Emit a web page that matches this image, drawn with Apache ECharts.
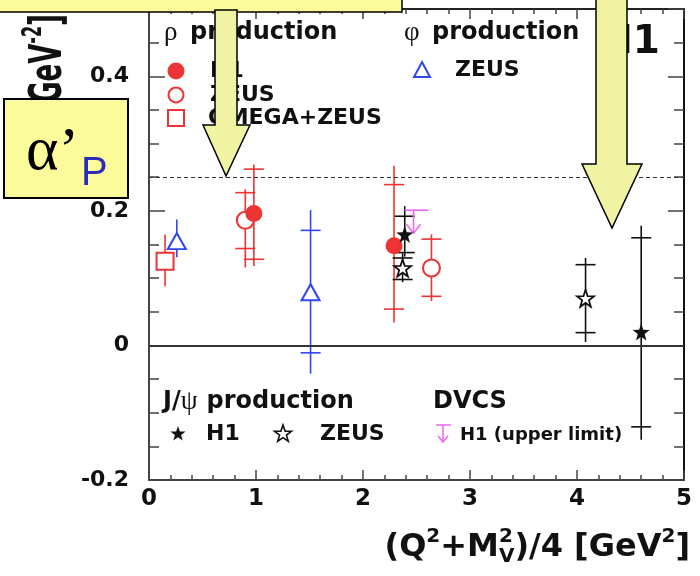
<!DOCTYPE html>
<html><head><meta charset="utf-8">
<script src="https://cdn.jsdelivr.net/npm/echarts@6/dist/echarts.min.js"></script>
<style>html,body{margin:0;padding:0;background:#fff}#c{width:700px;height:576px}</style>
</head><body><div id="c"></div>
<script>
// ---------------- data ----------------
const xTickLabels = ['0','1','2','3','4','5'];
const yTickLabels = ['-0.2','0','0.2','0.4'];
// rho production, H1 (filled circles)
const rhoH1_x = [0.98, 2.29];
const rhoH1_y = [0.196, 0.148];
const rhoH1_lo = [0.118, 0.034];
const rhoH1_hi = [0.269, 0.267];
const rhoH1_capLo = [0.128, 0.054];
const rhoH1_capHi = [0.262, 0.239];
// rho production, ZEUS (open circles)
const rhoZEUS_x = [0.90, 2.64];
const rhoZEUS_y = [0.186, 0.115];
const rhoZEUS_lo = [0.116, 0.066];
const rhoZEUS_hi = [0.232, 0.165];
const rhoZEUS_capLo = [0.144, 0.073];
const rhoZEUS_capHi = [0.227, 0.158];
// rho production, OMEGA+ZEUS (open square)
const rhoOmega_x = [0.15];
const rhoOmega_y = [0.125];
const rhoOmega_lo = [0.088];
const rhoOmega_hi = [0.165];
const rhoOmega_capLo = [null];
const rhoOmega_capHi = [null];
// phi production, ZEUS (open triangles)
const phiZEUS_x = [0.26, 1.51];
const phiZEUS_y = [0.155, 0.079];
const phiZEUS_lo = [0.131, -0.042];
const phiZEUS_hi = [0.187, 0.201];
const phiZEUS_capLo = [null, -0.011];
const phiZEUS_capHi = [null, 0.171];
// J/psi production, H1 (filled stars)
const jpsiH1_x = [2.39, 4.60];
const jpsiH1_y = [0.165, 0.020];
const jpsiH1_lo = [0.132, -0.140];
const jpsiH1_hi = [0.207, 0.178];
const jpsiH1_capLo = [0.138, -0.121];
const jpsiH1_capHi = [0.192, 0.160];
// J/psi production, ZEUS (open stars)
const jpsiZEUS_x = [2.37, 4.08];
const jpsiZEUS_y = [0.115, 0.070];
const jpsiZEUS_lo = [0.094, 0.005];
const jpsiZEUS_hi = [0.137, 0.130];
const jpsiZEUS_capLo = [0.098, 0.019];
const jpsiZEUS_capHi = [0.130, 0.120];
// DVCS H1 upper limit
const dvcsH1_x = [2.50];
const dvcsH1_limit = [0.201];
// reference line
const refLineValue = [0.25];

// ---------------- helpers ----------------
const RED = '#EC3434', BLUE = '#3346EE', MAG = '#EE66EE', BLK = '#111111';
const STAR = 'path://M0,-10 L2.35,-3.24 L9.51,-3.09 L3.8,1.24 L5.88,8.09 L0,4 L-5.88,8.09 L-3.8,1.24 L-9.51,-3.09 L-2.35,-3.24 Z';
const FONT = 'DejaVu Sans';

function pts(xs, ys){ return xs.map((x,i)=>[x, ys[i]]); }
function errs(xs, lo, hi, cl, ch){ return xs.map((x,i)=>[x, lo[i], hi[i], cl[i]==null?'-':cl[i], ch[i]==null?'-':ch[i]]); }
function errRender(color){
  return function(params, api){
    const x = api.value(0);
    const a = api.coord([x, api.value(1)]);
    const b = api.coord([x, api.value(2)]);
    const ch = [{type:'line', shape:{x1:a[0],y1:a[1],x2:b[0],y2:b[1]}, style:{stroke:color,lineWidth:1.6}}];
    [3,4].forEach(k=>{
      const v = api.value(k);
      if(v!=null && !isNaN(v)){
        const c = api.coord([x, v]);
        ch.push({type:'line', shape:{x1:c[0]-10,y1:c[1],x2:c[0]+10,y2:c[1]}, style:{stroke:color,lineWidth:1.6}});
      }
    });
    return {type:'group', children:ch};
  };
}
function limitRender(params, api){
  const c = api.coord([api.value(0), api.value(1)]);
  const st = {stroke:MAG, lineWidth:1.6, fill:null};
  return {type:'group', children:[
    {type:'line', shape:{x1:c[0]-12,y1:c[1],x2:c[0]+12,y2:c[1]}, style:st},
    {type:'line', shape:{x1:c[0]-3,y1:c[1],x2:c[0]-3,y2:c[1]+23}, style:st},
    {type:'polyline', shape:{points:[[c[0]-10,c[1]+14],[c[0]-3,c[1]+23],[c[0]+4,c[1]+14]]}, style:st}
  ]};
}
function errSeries(name, data, color){
  return {type:'custom', name, z:2, data, dimensions:['x','lo','hi','cl','ch'], encode:{x:0,y:[1,2]}, renderItem:errRender(color), silent:true};
}
function scat(name, data, symbol, size, fill, border, bw){
  return {type:'scatter', name, z:4, data, symbol, symbolSize:size, itemStyle:{color:fill, borderColor:border, borderWidth:bw, opacity:1}, silent:true};
}

const mctx = document.createElement('canvas').getContext('2d');
function tw(t, f){ mctx.font = f; return mctx.measureText(t).width; }
function run(pieces, anchorX, yc, alignRight, z){
  let x = 0, prevX = 0, prevW = 0; const items = [];
  pieces.forEach(p=>{
    const f = `${p.weight||'bold'} ${p.size}px "${p.family||FONT}"`;
    const w = tw(p.t, f);
    let px;
    if(p.stack){ px = prevX; if(w>prevW) x += w-prevW; }
    else { px = x + (p.gap||0); x = px + w; prevX = px; prevW = w; }
    items.push({px, p, f});
  });
  const off = alignRight ? anchorX - x : anchorX;
  return items.map(it=>({type:'text', z:z||10, silent:true,
    style:{text:it.p.t, x:off+it.px, y:yc+(it.p.dy||0), font:it.f, fill:it.p.fill||BLK, align:'left', verticalAlign:'middle'}}));
}
function txt(t, x, y, size, opts){
  opts = opts||{};
  return {type:'text', z:10, silent:true, style:{text:t, x, y, font:`${opts.weight||'bold'} ${size}px "${opts.family||FONT}"`, fill:opts.fill||BLK, align:opts.align||'left', verticalAlign:'middle'}};
}
function starPts(cx, cy, R){
  const r = R*0.4, out = [];
  for(let i=0;i<10;i++){ const a = -Math.PI/2 + i*Math.PI/5; const rr = i%2?r:R; out.push([cx+rr*Math.cos(a), cy+rr*Math.sin(a)]); }
  return out;
}

// ---------------- graphics (legend, annotations) ----------------
const LEG = 22, HEAD = 24;
const graphics = [
  // legend headers
  txt('ρ', 164, 33, 27, {weight:'normal', family:'Liberation Serif'}),
  txt('production', 190, 33, HEAD),
  txt('φ', 404, 33, 27, {weight:'normal', family:'Liberation Serif'}),
  txt('production', 432, 33, HEAD),
  ...run([{t:'J/', size:HEAD},{t:'ψ', size:27, weight:'normal', family:'Liberation Serif'},{t:'production', size:HEAD, gap:9}], 163, 402, false),
  txt('DVCS', 433, 402, HEAD),
  // legend entries
  {type:'circle', z:10, shape:{cx:176, cy:71, r:8.5}, style:{fill:RED}},
  txt('H1', 210, 71, LEG),
  {type:'circle', z:10, shape:{cx:176, cy:95, r:7.5}, style:{fill:'#fff', stroke:RED, lineWidth:2}},
  txt('ZEUS', 210, 95, LEG),
  {type:'rect', z:10, shape:{x:168, y:110, width:16, height:16}, style:{fill:'#fff', stroke:RED, lineWidth:2}},
  txt('OMEGA+ZEUS', 208, 118, LEG),
  {type:'polygon', z:10, shape:{points:[[422,62],[430,77],[414,77]]}, style:{fill:'#fff', stroke:BLUE, lineWidth:2}},
  txt('ZEUS', 455, 70, LEG),
  {type:'polygon', z:10, shape:{points:starPts(178,434,8)}, style:{fill:BLK}},
  txt('H1', 206, 434, LEG),
  {type:'polygon', z:10, shape:{points:starPts(283,434,9)}, style:{fill:'#fff', stroke:BLK, lineWidth:1.6}},
  txt('ZEUS', 320, 434, LEG),
  {type:'line', z:10, shape:{x1:436,y1:425,x2:451,y2:425}, style:{stroke:MAG, lineWidth:1.5}},
  {type:'line', z:10, shape:{x1:443,y1:425,x2:443,y2:442}, style:{stroke:MAG, lineWidth:1.5}},
  {type:'polyline', z:10, shape:{points:[[438,436],[443,442],[448,436]]}, style:{stroke:MAG, lineWidth:1.5, fill:null}},
  txt('H1 (upper limit)', 460, 435, 18),
  // big H1 label
  txt('H1', 660, 43, 39, {align:'right'}),
  // x axis title
  ...run([
    {t:'(Q', size:32},{t:'2', size:20, dy:-11},{t:'+M', size:32},{t:'2', size:20, dy:-11},{t:'V', size:20, dy:9, stack:true},
    {t:')/4 [GeV', size:32},{t:'2', size:20, dy:-11},{t:']', size:32}
  ], 690, 548, true),
  // y axis title (rotated, partly hidden)
  {type:'group', z:10, x:65, y:14, rotation:Math.PI/2, scaleY:1.7, silent:true,
    children: run([{t:'[GeV', size:26},{t:'-2', size:16, dy:-9},{t:']', size:26}], 0, -9, true)},
  // yellow annotation boxes and arrows
  {type:'rect', z:100, shape:{x:-2, y:-3, width:404, height:15}, style:{fill:'#FBFB9C', stroke:'#000', lineWidth:1.5}},
  {type:'polygon', z:100, shape:{points:[[215,10],[237,10],[237,125],[250,125],[226,176],[203,125],[215,125]]}, style:{fill:'#F0F4A2', stroke:'#000', lineWidth:1.5}},
  {type:'polygon', z:100, shape:{points:[[596,-3],[627,-3],[627,164],[642,164],[612,228],[582,164],[596,164]]}, style:{fill:'#F0F4A2', stroke:'#000', lineWidth:1.5}},
  {type:'rect', z:100, shape:{x:4, y:99, width:124, height:99}, style:{fill:'#FBFB9C', stroke:'#000', lineWidth:2}},
  {type:'text', z:101, style:{text:'α’', x:26, y:153, font:'normal 62px "Liberation Serif"', fill:'#000', align:'left', verticalAlign:'middle'}},
  {type:'text', z:101, style:{text:'P', x:81, y:174, font:'normal 40px "Liberation Sans"', fill:'#2C2CB8', align:'left', verticalAlign:'middle'}}
];

// ---------------- chart ----------------
const axisLab = {fontFamily:FONT, fontWeight:'bold', fontSize:22, color:BLK};
const chart = echarts.init(document.getElementById('c'), null, {renderer:'canvas'});
chart.setOption({
  animation:false,
  backgroundColor:'#fff',
  grid:{left:149, right:16, top:9, bottom:96, containLabel:false, outerBoundsMode:'none', show:false},
  xAxis:[
    {type:'value', min:0, max:5, interval:1, position:'bottom',
     axisLine:{show:true, onZero:false, lineStyle:{color:'#444', width:2}},
     axisTick:{show:true, inside:true, length:10, lineStyle:{color:'#444', width:1.5}},
     minorTick:{show:true, splitNumber:5, length:5, lineStyle:{color:'#444', width:1.5}},
     splitLine:{show:false},
     axisLabel:Object.assign({margin:8, formatter:v=>xTickLabels[Math.round(v)]}, axisLab, {fontSize:23})},
    {type:'value', min:0, max:5, interval:1, position:'top',
     axisLine:{show:true, onZero:false, lineStyle:{color:'#222', width:2}},
     axisTick:{show:true, inside:true, length:10, lineStyle:{color:'#444', width:1.5}},
     minorTick:{show:true, splitNumber:5, length:5, lineStyle:{color:'#444', width:1.5}},
     splitLine:{show:false}, axisLabel:{show:false}}
  ],
  yAxis:[
    {type:'value', min:-0.2, max:0.5, interval:0.2, position:'left',
     axisLine:{show:true, onZero:false, lineStyle:{color:'#444', width:2}},
     axisTick:{show:true, inside:true, length:16, lineStyle:{color:'#444', width:1.5}},
     minorTick:{show:true, splitNumber:4, length:10, lineStyle:{color:'#444', width:1.5}},
     splitLine:{show:false},
     axisLabel:Object.assign({margin:20, showMaxLabel:false, formatter:v=>{const i=Math.round((v+0.2)/0.2); return (Math.abs(v+0.2-i*0.2)<1e-6 && i<yTickLabels.length)? yTickLabels[i] : '';}}, axisLab)},
    {type:'value', min:-0.2, max:0.5, interval:0.2, position:'right',
     axisLine:{show:true, onZero:false, lineStyle:{color:'#111', width:2}},
     axisTick:{show:true, inside:true, length:16, lineStyle:{color:'#444', width:1.5}},
     minorTick:{show:true, splitNumber:4, length:10, lineStyle:{color:'#444', width:1.5}},
     splitLine:{show:false}, axisLabel:{show:false}}
  ],
  graphic:graphics,
  series:[
    Object.assign(errSeries('rhoOmegaErr', errs(rhoOmega_x, rhoOmega_lo, rhoOmega_hi, rhoOmega_capLo, rhoOmega_capHi), RED), {
      markLine:{silent:true, symbol:['none','none'], label:{show:false},
        data:[{yAxis:refLineValue[0], lineStyle:{type:[4,3], color:'#333', width:1}},
              {yAxis:0, lineStyle:{type:'solid', color:'#333', width:2}}]}
    }),
    errSeries('rhoH1Err', errs(rhoH1_x, rhoH1_lo, rhoH1_hi, rhoH1_capLo, rhoH1_capHi), RED),
    errSeries('rhoZEUSErr', errs(rhoZEUS_x, rhoZEUS_lo, rhoZEUS_hi, rhoZEUS_capLo, rhoZEUS_capHi), RED),
    errSeries('phiZEUSErr', errs(phiZEUS_x, phiZEUS_lo, phiZEUS_hi, phiZEUS_capLo, phiZEUS_capHi), BLUE),
    errSeries('jpsiZEUSErr', errs(jpsiZEUS_x, jpsiZEUS_lo, jpsiZEUS_hi, jpsiZEUS_capLo, jpsiZEUS_capHi), BLK),
    errSeries('jpsiH1Err', errs(jpsiH1_x, jpsiH1_lo, jpsiH1_hi, jpsiH1_capLo, jpsiH1_capHi), BLK),
    {type:'custom', name:'dvcsH1', z:3, data:pts(dvcsH1_x, dvcsH1_limit), encode:{x:0,y:1}, renderItem:limitRender, silent:true},
    scat('rhoOmega', pts(rhoOmega_x, rhoOmega_y), 'rect', 17, '#fff', RED, 2),
    scat('rhoZEUS', pts(rhoZEUS_x, rhoZEUS_y), 'circle', 17, '#fff', RED, 2),
    scat('rhoH1', pts(rhoH1_x, rhoH1_y), 'circle', 17, RED, RED, 0),
    scat('phiZEUS', pts(phiZEUS_x, phiZEUS_y), 'triangle', [18,16], '#fff', BLUE, 2),
    scat('jpsiZEUS', pts(jpsiZEUS_x, jpsiZEUS_y), STAR, 17, '#fff', BLK, 1.8),
    scat('jpsiH1', pts(jpsiH1_x, jpsiH1_y), STAR, 17, BLK, BLK, 0)
  ]
});
</script>
</body></html>
